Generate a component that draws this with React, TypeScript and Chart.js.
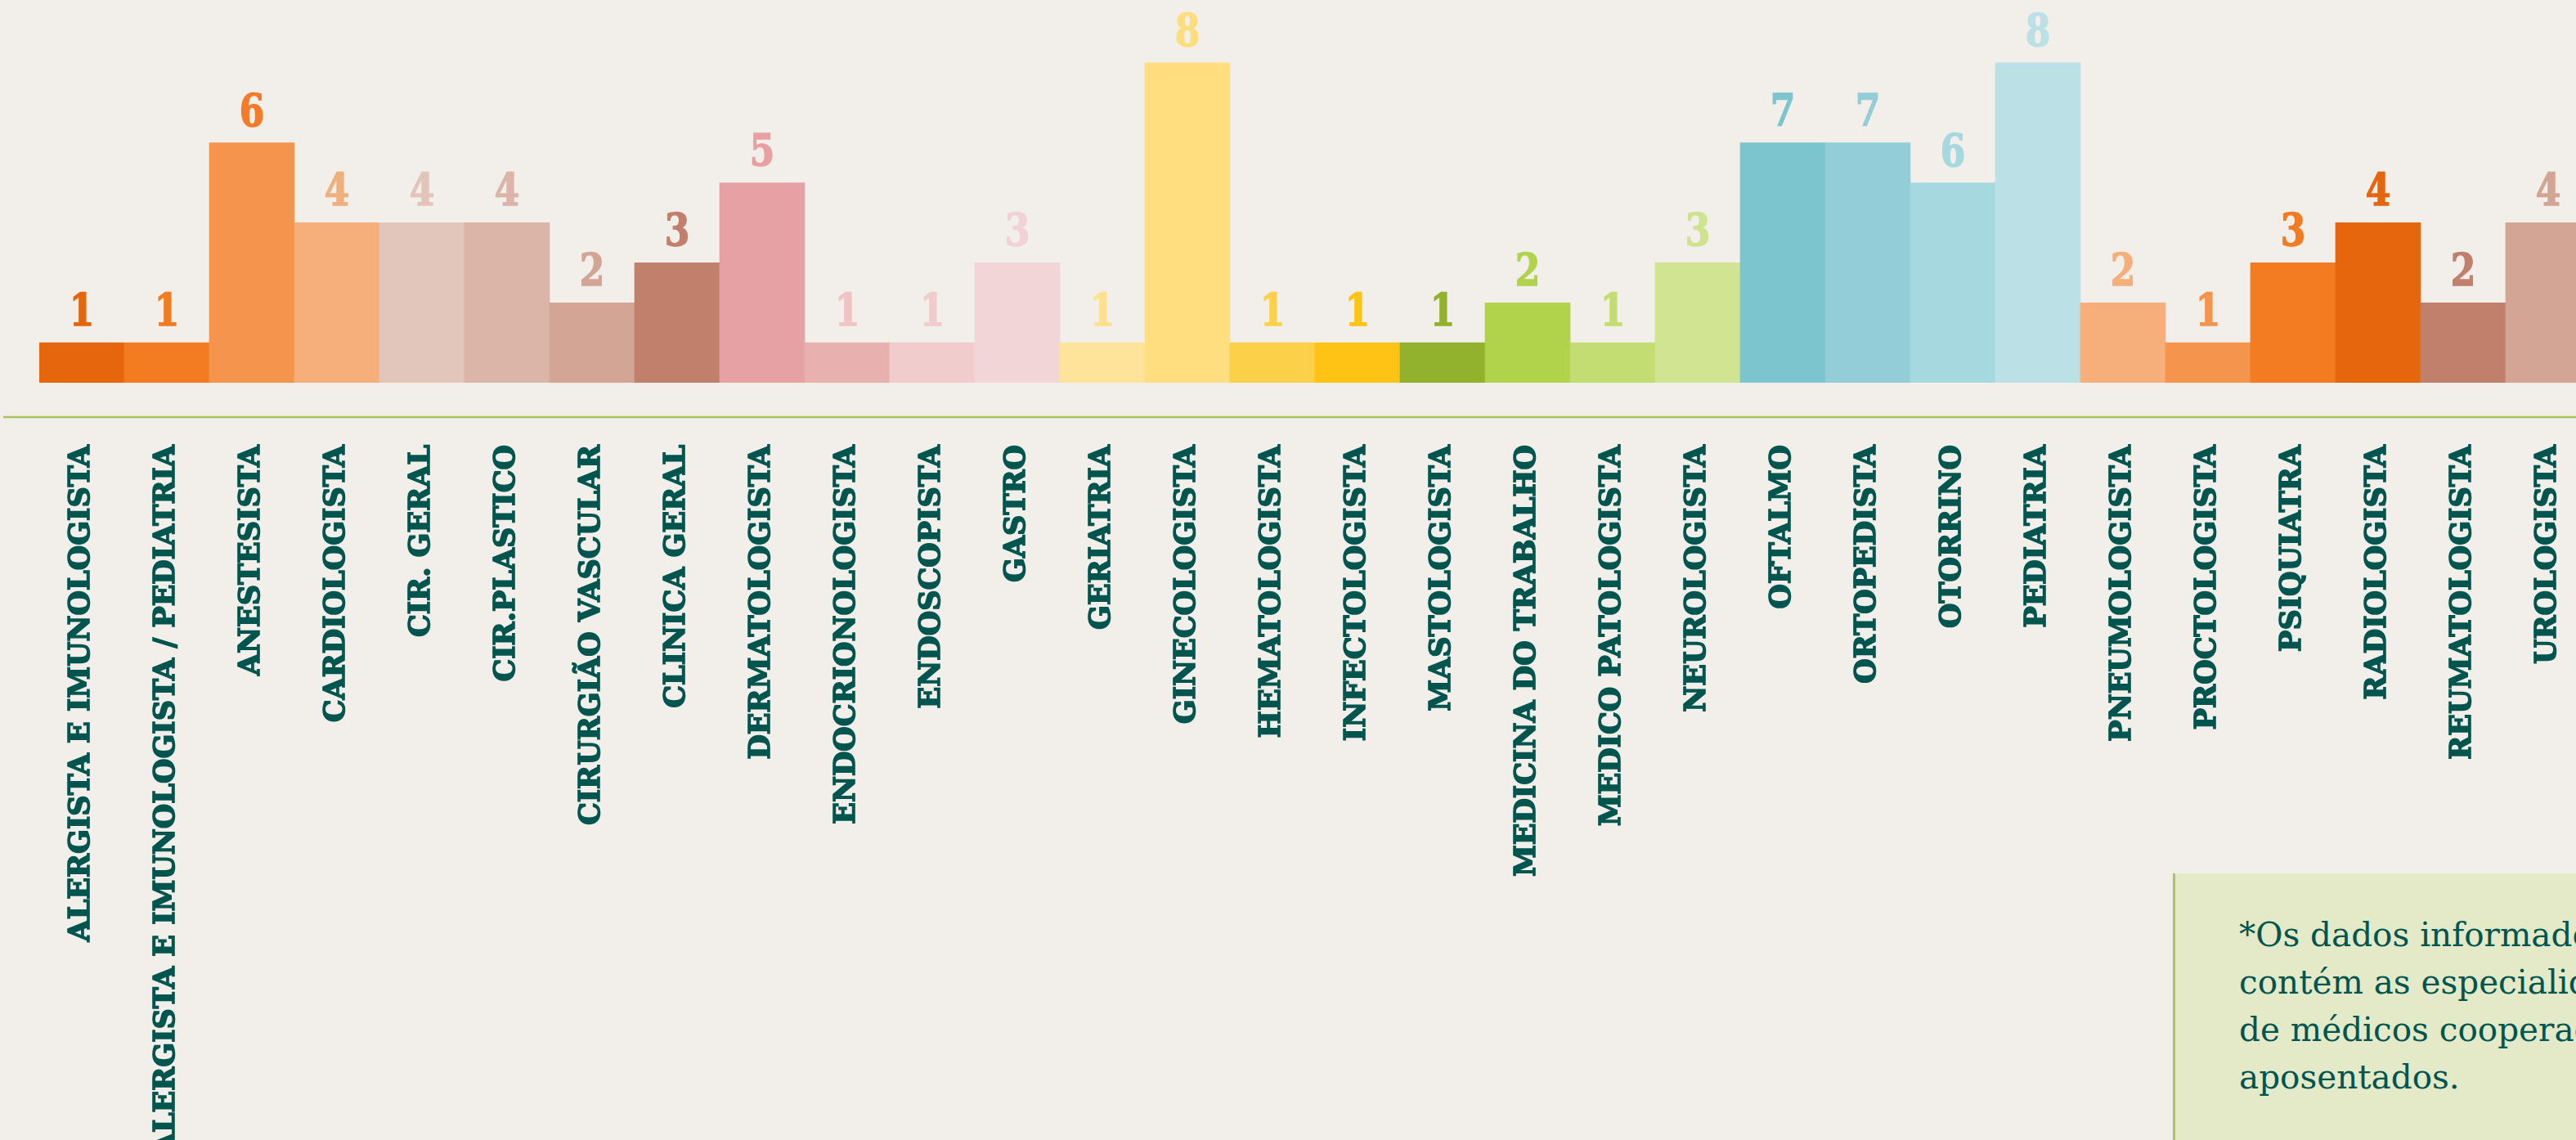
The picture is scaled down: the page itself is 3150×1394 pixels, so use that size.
import React, { useEffect, useRef } from 'react';
import { Chart, registerables } from 'chart.js';

Chart.register(...registerables);

const categories = [
  'ALERGISTA E IMUNOLOGISTA',
  'ALERGISTA E IMUNOLOGISTA / PEDIATRIA',
  'ANESTESISTA',
  'CARDIOLOGISTA',
  'CIR. GERAL',
  'CIR.PLASTICO',
  'CIRURGIÃO VASCULAR',
  'CLINICA GERAL',
  'DERMATOLOGISTA',
  'ENDOCRIONOLOGISTA',
  'ENDOSCOPISTA',
  'GASTRO',
  'GERIATRIA',
  'GINECOLOGISTA',
  'HEMATOLOGISTA',
  'INFECTOLOGISTA',
  'MASTOLOGISTA',
  'MEDICINA DO TRABALHO',
  'MEDICO PATOLOGISTA',
  'NEUROLOGISTA',
  'OFTALMO',
  'ORTOPEDISTA',
  'OTORRINO',
  'PEDIATRIA',
  'PNEUMOLOGISTA',
  'PROCTOLOGISTA',
  'PSIQUIATRA',
  'RADIOLOGISTA',
  'REUMATOLOGISTA',
  'UROLOGISTA',
];

// bar heights as drawn in the picture
const barValues = [1, 1, 6, 4, 4, 4, 2, 3, 5, 1, 1, 3, 1, 8, 1, 1, 1, 2, 1, 3, 6, 6, 5, 8, 2, 1, 3, 4, 2, 4];

// numbers printed above the bars
const valueLabels = ['1', '1', '6', '4', '4', '4', '2', '3', '5', '1', '1', '3', '1', '8', '1', '1', '1', '2', '1', '3', '7', '7', '6', '8', '2', '1', '3', '4', '2', '4'];

const barColors = [
  '#e5660d', '#f37b22', '#f5954d', '#f6ae7a', '#e2c5bb', '#dcb5a9', '#d2a594', '#c0806c',
  '#e5a1a3', '#e9b0b0', '#f0cccc', '#f2d5d6', '#fee49b', '#fede7f', '#fdd04a', '#fec314',
  '#92b22d', '#b0d34b', '#c4dd72', '#d0e491', '#7cc4ce', '#93cdd7', '#a6d8df', '#bbe0e5',
  '#f6ae7a', '#f5954d', '#f37b22', '#e5660d', '#c0806c', '#d2a594',
];

const labelColors = [
  '#e5660d', '#f37b22', '#f37b2a', '#f0b07e', '#e3c4ba', '#dcb4a8', '#d2a594', '#c0806c',
  '#e8a0a2', '#f0c4c4', '#f0cccc', '#f2d3d5', '#fee08e', '#fedd7c', '#fdd04a', '#fec314',
  '#92b22d', '#b0d34b', '#c4dd72', '#cfe38e', '#7cc4ce', '#93cdd7', '#a6d8df', '#bbe0e5',
  '#f6ae7a', '#f5954d', '#f37b22', '#e5660d', '#c0806c', '#d2a594',
];

const noteLines = [
  '*Os dados informados',
  'contém as especialidades',
  'de médicos cooperados',
  'aposentados.',
];

const TEXT_COLOR = '#00554f';
const CANVAS_W = 3170;
const CANVAS_H = 1394;
const PLOT_BOTTOM = 468;

const valueLabelPlugin = {
  id: 'valueLabels',
  afterDatasetsDraw(chart: any) {
    const ctx = chart.ctx;
    const meta = chart.getDatasetMeta(0);
    meta.data.forEach((bar: any, i: number) => {
      ctx.save();
      ctx.fillStyle = labelColors[i];
      ctx.strokeStyle = labelColors[i];
      ctx.lineWidth = 1.5;
      ctx.font = 'bold 55px "DejaVu Serif"';
      ctx.textAlign = 'center';
      ctx.textBaseline = 'alphabetic';
      ctx.translate(bar.x, bar.y - 21);
      ctx.scale(0.8, 1);
      ctx.fillText(valueLabels[i], 0, 0);
      ctx.strokeText(valueLabels[i], 0, 0);
      ctx.restore();
    });
  },
};

const axisLinePlugin = {
  id: 'axisLine',
  afterDraw(chart: any) {
    const ctx = chart.ctx;
    const y = chart.chartArea.bottom + 42;
    ctx.save();
    ctx.strokeStyle = '#a9c45f';
    ctx.lineWidth = 2.5;
    ctx.beginPath();
    ctx.moveTo(4, y);
    ctx.lineTo(chart.width, y);
    ctx.stroke();
    ctx.restore();
  },
};

export default function App() {
  const ref = useRef<HTMLCanvasElement>(null);

  useEffect(() => {
    if (!ref.current) return;
    const chart = new Chart(ref.current, {
      type: 'bar',
      data: {
        labels: categories,
        datasets: [
          {
            data: barValues,
            backgroundColor: barColors,
            borderWidth: 0,
            barPercentage: 1,
            categoryPercentage: 1,
          },
        ],
      },
      options: {
        animation: false,
        responsive: false,
        maintainAspectRatio: false,
        layout: { padding: { left: 48, right: 2, top: 28, bottom: 0 } },
        plugins: {
          legend: { display: false },
          tooltip: { enabled: false },
        },
        scales: {
          x: {
            grid: { display: false, drawTicks: false },
            border: { display: false },
            ticks: {
              autoSkip: false,
              minRotation: 90,
              maxRotation: 90,
              padding: 76,
              color: TEXT_COLOR,
              textStrokeColor: TEXT_COLOR,
              textStrokeWidth: 1.6,
              font: { family: '"DejaVu Serif"', weight: 'bold', size: 35 },
            },
            afterFit: (scale: any) => {
              scale.height = CANVAS_H - PLOT_BOTTOM;
              scale.paddingLeft = 0;
              scale.paddingRight = 0;
            },
          },
          y: { display: false, min: 0, max: 9 },
        },
      } as any,
      plugins: [valueLabelPlugin, axisLinePlugin],
    });
    return () => chart.destroy();
  }, []);

  return (
    <div
      style={{
        position: 'fixed',
        left: 0,
        top: 0,
        width: 3150,
        height: 1394,
        overflow: 'hidden',
        background: '#f2efea',
      }}
    >
      <canvas
        ref={ref}
        width={CANVAS_W}
        height={CANVAS_H}
        style={{ position: 'absolute', left: 0, top: 0, width: CANVAS_W, height: CANVAS_H }}
      />
      <div
        style={{
          position: 'absolute',
          left: 2657,
          top: 1068,
          width: 700,
          height: 400,
          background: '#e4e9c8',
          borderLeft: '3px solid #aac45f',
          boxSizing: 'border-box',
          paddingLeft: 78,
          paddingTop: 46,
          fontFamily: '"DejaVu Serif", serif',
          fontSize: 40.5,
          lineHeight: '58px',
          color: TEXT_COLOR,
          whiteSpace: 'nowrap',
        }}
      >
        {noteLines.map((line) => (
          <div key={line}>{line}</div>
        ))}
      </div>
    </div>
  );
}
